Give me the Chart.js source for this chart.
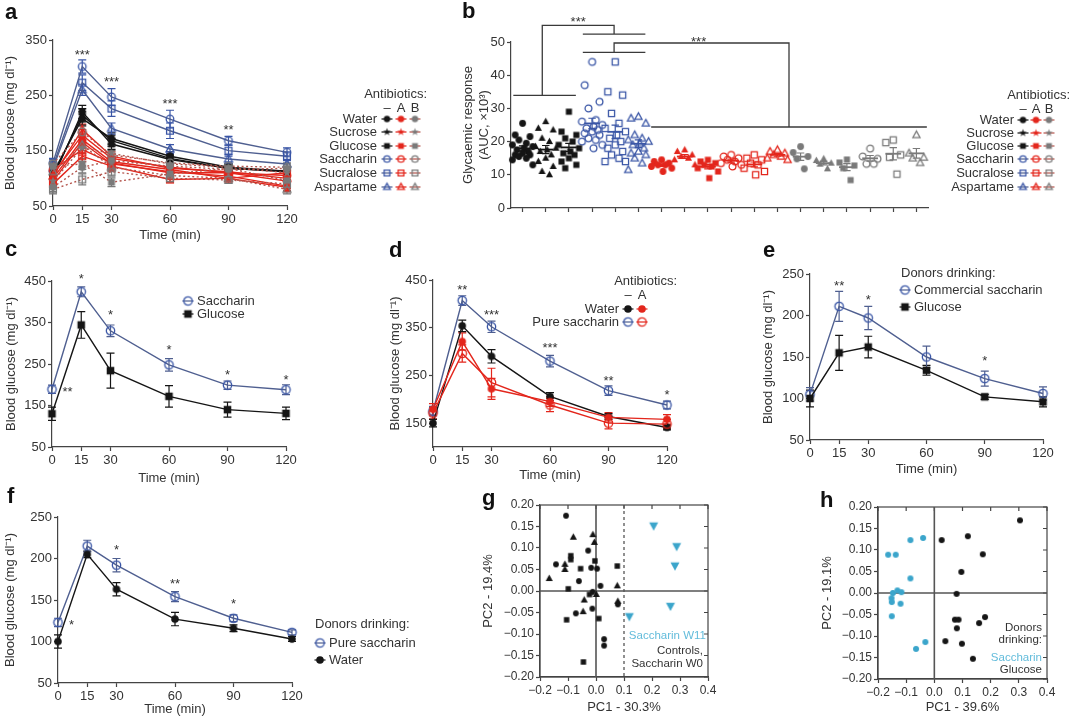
<!DOCTYPE html>
<html>
<head>
<meta charset="utf-8">
<title>Artificial sweeteners and glucose intolerance</title>
<script src="https://cdn.jsdelivr.net/npm/chart.js@4.4.1/dist/chart.umd.min.js"></script>
<style>
  body { margin: 0; background: #fff; }
  #page { position: relative; width: 1080px; height: 719px; overflow: hidden; font-family: "Liberation Sans", Arial, sans-serif; }
  #page canvas { position: absolute; }
  .tag { position: absolute; font-weight: bold; font-size: 22px; line-height: 22px; color: #111; }
</style>
</head>
<body>
<div id="page">
  <canvas id="chartA"></canvas>
  <canvas id="chartB"></canvas>
  <canvas id="chartC"></canvas>
  <canvas id="chartD"></canvas>
  <canvas id="chartE"></canvas>
  <canvas id="chartF"></canvas>
  <canvas id="chartG"></canvas>
  <canvas id="chartH"></canvas>
  <div class="tag" style="left:5px;top:1px">a</div>
  <div class="tag" style="left:462px;top:0px">b</div>
  <div class="tag" style="left:5px;top:238px">c</div>
  <div class="tag" style="left:389px;top:239px">d</div>
  <div class="tag" style="left:763px;top:239px">e</div>
  <div class="tag" style="left:7px;top:485px">f</div>
  <div class="tag" style="left:482px;top:487px">g</div>
  <div class="tag" style="left:820px;top:489px">h</div>
</div>
<script>
// shared labels
const timeTicks = [0, 15, 30, 60, 90, 120];
const sweeteners = ['Water', 'Sucrose', 'Glucose', 'Saccharin', 'Sucralose', 'Aspartame'];
const antibiotics = ['–', 'A', 'B'];

// a: blood glucose curves, mg/dl
const aWaterNone = [110, 208, 172, 140, 120, 113];
const aSucroseNone = [105, 214, 168, 136, 118, 112];
const aGlucoseNone = [100, 220, 162, 134, 118, 113];
const aSaccharinNone = [128, 302, 247, 207, 168, 147];
const aSucraloseNone = [122, 273, 226, 186, 150, 140];
const aAspartameNone = [118, 260, 190, 153, 135, 126];
const aWaterA = [95, 165, 126, 112, 104, 86];
const aSucroseA = [108, 178, 136, 120, 110, 95];
const aGlucoseA = [100, 170, 130, 116, 100, 84];
const aSaccharinA = [115, 152, 128, 110, 110, 105];
const aSucraloseA = [90, 140, 122, 98, 100, 110];
const aAspartameA = [104, 188, 140, 118, 112, 100];
const aWaterB = [84, 120, 132, 122, 116, 118];
const aSucroseB = [95, 155, 145, 126, 120, 110];
const aGlucoseB = [122, 126, 93, 108, 118, 96];
const aSaccharinB = [126, 184, 142, 128, 122, 120];
const aSucraloseB = [80, 98, 112, 100, 97, 90];
const aAspartameB = [112, 160, 120, 105, 100, 80];
const aErrControl = [6, 12, 10, 8, 6, 6];
const aErrSaccharin = [8, 12, 15, 16, 8, 8];
const aErrSucralose = [8, 14, 14, 14, 10, 8];
const aErrAspartame = [8, 10, 10, 8, 8, 8];
const aErrTreated = [8, 10, 8, 6, 6, 8];
const aYTicks = [50, 150, 250, 350];
const aStars = [[15, 329, '***'], [30, 280, '***'], [60, 241, '***'], [90, 193, '**']];

// b: glycaemic response (AUC x10^3), one array per group
const bWaterNone = [25.5, 22, 21.5, 20.5, 19.5, 19, 18.5, 18, 17.5, 17, 16.5, 16, 16, 15.5, 15, 14.5, 13];
const bSucroseNone = [26, 24, 23.5, 21, 20, 18.5, 18, 17.5, 17, 16, 15, 14, 12.5, 11, 10];
const bGlucoseNone = [29, 23, 22, 21, 20, 19, 18, 17, 16.5, 16, 15, 14, 13, 12];
const bSaccharinNone = [44, 37, 32, 30, 26.5, 26, 25, 24.5, 24, 23.5, 23, 22.5, 22, 21, 20.5, 20, 19, 18];
const bSucraloseNone = [44, 35, 34, 28.5, 25.5, 24, 23, 22, 21, 20, 19, 18, 17, 16, 15, 14, 14];
const bAspartameNone = [27.5, 27, 25.5, 22, 21, 20.5, 20, 19.5, 19, 18, 17, 16.5, 16, 15, 13.5, 11.5];
const bWaterA = [14.5, 14, 13.5, 13, 13, 12.5, 12, 11];
const bSucroseA = [17.5, 17, 16, 15.5, 15, 14.5, 13];
const bGlucoseA = [14.5, 14, 13.5, 13, 12.5, 12, 11, 9];
const bSaccharinA = [16, 15.5, 15, 14.5, 14, 13.5, 13, 12.5];
const bSucraloseA = [16, 15, 14.5, 13.5, 13, 12, 11, 10];
const bAspartameA = [17.5, 17, 16.5, 16, 15.5, 15, 14.5];
const bWaterB = [18.5, 16.7, 15.5, 14.8, 11.8];
const bSucroseB = [14.8, 14.3, 13.5, 13.2, 11.8];
const bGlucoseB = [14.6, 13.7, 12.8, 12, 8.4];
const bSaccharinB = [17.9, 15.5, 14.8, 13.3, 13.3];
const bSucraloseB = [20.5, 19.7, 16, 15.3, 10.2];
const bAspartameB = [22, 16.5, 15.2, 15, 13.6];
const bYTicks = [0, 10, 20, 30, 40, 50];
// significance brackets, in (group index, AUC) units
const bBrackets = [
  [[-0.4, 33.9], [2.3, 33.9]],
  [[0.85, 33.9], [0.85, 55], [3.95, 55], [3.95, 52.4]],
  [[2.6, 52.4], [5.3, 52.4]],
  [[2.6, 46.9], [5.3, 46.9]],
  [[3.95, 46.9], [3.95, 49.7], [11.5, 49.7], [11.5, 24.4]],
  [[5.55, 24.4], [17.45, 24.4]]
];
const bStars = [[2.4, 57, '***'], [7.6, 51.2, '***']];

// c
const cSaccharin = [189, 424, 330, 248, 199, 188];
const cSaccharinErr = [10, 12, 14, 15, 10, 12];
const cGlucose = [130, 344, 234, 172, 140, 131];
const cGlucoseErr = [16, 32, 42, 26, 18, 15];
const cYTicks = [50, 150, 250, 350, 450];
const cStars = [[15, 464, '*'], [30, 376, '*'], [60, 292, '*'], [90, 232, '*'], [120, 221, '*'], [8, 190, '**']];

// d
const dWaterNone = [150, 354, 290, 206, 164, 141];
const dWaterNoneErr = [8, 12, 14, 8, 6, 5];
const dWaterA = [179, 321, 222, 195, 162, 158];
const dWaterAErr = [12, 18, 22, 10, 10, 10];
const dSaccharinNone = [175, 407, 352, 280, 218, 188];
const dSaccharinNoneErr = [10, 10, 12, 12, 10, 8];
const dSaccharinA = [171, 296, 235, 188, 150, 148];
const dSaccharinAErr = [12, 18, 30, 14, 12, 10];
const dYTicks = [150, 250, 350, 450];
const dStars = [[15, 436, '**'], [30, 385, '***'], [60, 314, '***'], [90, 245, '**'], [120, 216, '*']];

// e
const eSaccharin = [105, 211, 197, 150, 124, 106];
const eSaccharinErr = [8, 18, 14, 13, 9, 8];
const eGlucose = [100, 155, 162, 134, 102, 96];
const eGlucoseErr = [10, 21, 13, 6, 3, 6];
const eYTicks = [50, 100, 150, 200, 250];
const eStars = [[15, 240, '**'], [30, 223, '*'], [90, 150, '*']];

// f
const fSaccharin = [123, 215, 192, 154, 128, 111];
const fSaccharinErr = [5, 7, 8, 6, 4, 3];
const fWater = [100, 205, 163, 127, 116, 103];
const fWaterErr = [8, 4, 8, 8, 4, 3];
const fYTicks = [50, 100, 150, 200, 250];
const fStars = [[7, 124, '*'], [30, 214, '*'], [60, 173, '**'], [90, 150, '*']];

// g: PCA, [PC1, PC2]
const gCircles = [[-0.107, 0.175], [-0.143, 0.062], [-0.028, 0.094], [-0.017, 0.054], [0.004, 0.052], [-0.061, 0.023],
  [0.016, 0.012], [-0.012, -0.002], [-0.013, -0.041], [-0.072, -0.052], [0.029, -0.112], [0.029, -0.127], [0.078, -0.031]];
const gTriangles = [[-0.081, 0.125], [-0.011, 0.131], [-0.006, 0.113], [-0.111, 0.062], [-0.111, 0.050], [-0.167, 0.029],
  [-0.042, -0.021], [-0.046, -0.048], [0.001, -0.008], [0.076, 0.012], [0.078, -0.024]];
const gSquares = [[-0.090, 0.082], [-0.090, 0.073], [-0.055, 0.052], [-0.004, 0.070], [0.076, 0.058], [-0.099, 0.005],
  [-0.023, -0.008], [-0.105, -0.067], [0.010, -0.064], [-0.045, -0.165]];
const gSaccharinW11 = [[0.206, 0.152], [0.288, 0.104], [0.282, 0.059], [0.266, -0.035], [0.119, -0.059]];

// h: PCA, [PC1, PC2]
const hSaccharin = [[-0.164, 0.089], [-0.137, 0.089], [-0.085, 0.123], [-0.040, 0.128], [-0.085, 0.034], [-0.147, 0.0],
  [-0.131, 0.006], [-0.117, 0.002], [-0.152, -0.012], [-0.151, -0.021], [-0.120, -0.025], [-0.151, -0.054],
  [-0.032, -0.114], [-0.065, -0.130]];
const hGlucose = [[0.304, 0.169], [0.026, 0.123], [0.119, 0.132], [0.172, 0.090], [0.096, 0.049], [0.079, -0.002],
  [0.073, -0.062], [0.086, -0.062], [0.080, -0.082], [0.180, -0.056], [0.159, -0.070], [0.039, -0.112],
  [0.098, -0.118], [0.137, -0.153]];

// ---------------------------------------------------------------
const FONT = '"Liberation Sans", Arial, Helvetica, sans-serif';
const TX = '#333', AX = '#444';
const BLACK = '#151515', BLUE = '#3a56a6', BLUELINE = '#4f5f90', RED = '#e3261c', GRAY = '#7a7a7a',
      BDOT = '#b4544c', CYAN = '#3ba5cb', CYANTXT = '#63bcdb';

Chart.defaults.font.family = FONT;
Chart.defaults.font.size = 13;
Chart.defaults.color = TX;

const shapes = ['circle', 'star', 'square', 'circle', 'square', 'tri'];
const filled = [true, true, true, false, false, false];

const mkCache = {};
function marker(shape, color, full, r) {
  const key = [shape, color, full, r].join('|');
  if (mkCache[key]) return mkCache[key];
  const s = Math.ceil(r * 2.6 + 4);
  const cv = document.createElement('canvas');
  cv.width = s; cv.height = s;
  const g = cv.getContext('2d');
  const c = s / 2;
  g.lineWidth = 1.3; g.strokeStyle = color; g.fillStyle = color;
  g.beginPath();
  if (shape === 'circle') g.arc(c, c, r, 0, Math.PI * 2);
  else if (shape === 'square') g.rect(c - r * 0.9, c - r * 0.9, r * 1.8, r * 1.8);
  else if (shape === 'tri' || shape === 'triDown') {
    const d = shape === 'tri' ? 1 : -1;
    g.moveTo(c, c - d * r * 1.15);
    g.lineTo(c + r * 1.05, c + d * r * 0.75);
    g.lineTo(c - r * 1.05, c + d * r * 0.75);
    g.closePath();
  } else if (shape === 'star') {
    for (let k = 0; k < 10; k++) {
      const rr = k % 2 ? r * 0.5 : r * 1.25;
      const ang = -Math.PI / 2 + k * Math.PI / 5;
      g.lineTo(c + rr * Math.cos(ang), c + rr * Math.sin(ang));
    }
    g.closePath();
  }
  if (full) g.fill(); else g.stroke();
  mkCache[key] = cv;
  return cv;
}

// canvas placement: area = plot rectangle in page px
function frame(id, area, o) {
  const half = o.fs * (o.lh || 1.2) / 2;
  const x = Math.round(o.yTitleX - half);
  const y = o.top;
  const bottom = Math.round(o.xTitleY != null ? o.xTitleY + half : o.bottom);
  const cv = document.getElementById(id);
  cv.width = o.right - x; cv.height = bottom - y;
  cv.style.left = x + 'px'; cv.style.top = y + 'px';
  return { cv, box: { x, y }, yw: area.l - x, xh: bottom - area.b,
           pad: { left: 0, bottom: 0, top: area.t - y, right: o.right - area.r } };
}

function yAxis(f, min, max, ticks, title, extra) {
  return Object.assign({
    type: 'linear', min, max,
    afterBuildTicks: s => { s.ticks = ticks.map(v => ({ value: v })); },
    afterFit: s => { s.width = f.yw; s.paddingTop = 0; s.paddingBottom = 0; },
    grid: { drawOnChartArea: false, tickLength: 4, tickColor: AX, tickWidth: 1.2 },
    border: { color: AX, width: 1.2 },
    ticks: { padding: 2, color: TX, autoSkip: false },
    title: { display: true, text: title, color: TX, padding: 0 }
  }, extra || {});
}

function xAxis(f, min, max, ticks, title, extra) {
  return Object.assign({
    type: 'linear', min, max,
    afterBuildTicks: s => { s.ticks = ticks.map(v => ({ value: v })); },
    afterFit: s => { s.height = f.xh; s.paddingLeft = 0; s.paddingRight = 0; },
    grid: { drawOnChartArea: false, tickLength: 4, tickColor: AX, tickWidth: 1.2 },
    border: { color: AX, width: 1.2 },
    ticks: { padding: 2, color: TX, autoSkip: false, maxRotation: 0 },
    title: { display: !!title, text: title, color: TX, padding: 0 }
  }, extra || {});
}

function curve(vals, err, lineColor, mark, dash, errColor) {
  return {
    data: timeTicks.map((t, i) => ({ x: t, y: vals[i] })),
    err, errColor: errColor || lineColor,
    borderColor: lineColor, borderWidth: 1.4, borderDash: dash || [],
    pointStyle: mark, pointRadius: 4, tension: 0, fill: false, clip: false
  };
}

const errorBars = {
  id: 'errorBars',
  beforeDatasetsDraw(chart) {
    const { ctx, scales: { x, y } } = chart;
    ctx.save();
    ctx.lineWidth = 1.2;
    chart.data.datasets.forEach(ds => {
      if (!ds.err) return;
      ctx.strokeStyle = ds.errColor;
      ctx.beginPath();
      ds.data.forEach((p, i) => {
        const e = ds.err[i];
        const px = x.getPixelForValue(p.x), lo = y.getPixelForValue(p.y - e), hi = y.getPixelForValue(p.y + e);
        ctx.moveTo(px, lo); ctx.lineTo(px, hi);
        ctx.moveTo(px - 4, lo); ctx.lineTo(px + 4, lo);
        ctx.moveTo(px - 4, hi); ctx.lineTo(px + 4, hi);
      });
      ctx.stroke();
    });
    ctx.restore();
  }
};

function label(ctx, s, x, y, align, color, size) {
  ctx.font = (size || 13) + 'px ' + FONT;
  ctx.fillStyle = color || TX; ctx.textAlign = align || 'left'; ctx.textBaseline = 'middle';
  ctx.fillText(s, x, y);
}
function legendMark(ctx, m, lineColor, x, y, dash) {
  ctx.strokeStyle = lineColor; ctx.lineWidth = 1.2; ctx.setLineDash(dash || []);
  ctx.beginPath(); ctx.moveTo(x - 5.5, y); ctx.lineTo(x + 5.5, y); ctx.stroke();
  ctx.setLineDash([]);
  ctx.drawImage(m, x - m.width / 2, y - m.height / 2);
}
function drawStars(chart, list) {
  const { ctx, scales: { x, y } } = chart;
  ctx.save();
  ctx.font = '13px ' + FONT; ctx.fillStyle = TX; ctx.textAlign = 'center'; ctx.textBaseline = 'alphabetic';
  list.forEach(([t, v, s]) => ctx.fillText(s, x.getPixelForValue(t), y.getPixelForValue(v) + 7.5));
  ctx.restore();
}
// notes are written in page coordinates
function notes(f, fn) {
  return { id: 'notes', afterDraw(chart) {
    const ctx = chart.ctx;
    ctx.save(); ctx.translate(-f.box.x, -f.box.y);
    fn(ctx, chart);
    ctx.restore();
  } };
}
function baseOptions(f) {
  return {
    responsive: false, animation: false, devicePixelRatio: 1,
    layout: { padding: f.pad },
    plugins: { legend: { display: false }, tooltip: { enabled: false } }
  };
}

// group colours for a and b
function markColor(g, k) { return g === 0 ? (k < 3 ? BLACK : BLUE) : g === 1 ? RED : GRAY; }
function lineColor(g, k) { return g === 0 ? (k < 3 ? BLACK : BLUELINE) : g === 1 ? RED : BDOT; }

function sweetenerLegend(ctx, textRight, cols, headRight, rowsY) {
  label(ctx, 'Antibiotics:', headRight, rowsY[0] - 25, 'right');
  antibiotics.forEach((a, g) => label(ctx, a, cols[g], rowsY[0] - 11, 'center'));
  sweeteners.forEach((s, k) => {
    label(ctx, s, textRight, rowsY[k], 'right');
    antibiotics.forEach((a, g) => legendMark(ctx, marker(shapes[k], markColor(g, k), filled[k], 3.2), lineColor(g, k), cols[g], rowsY[k]));
  });
}

// ---------- a ----------
(function () {
  const area = { l: 53, r: 287, t: 40, b: 206 };
  const f = frame('chartA', area, { fs: 13, yTitleX: 11, xTitleY: 235, top: 20, right: 440 });
  const groups = [
    [aWaterNone, aSucroseNone, aGlucoseNone, aSaccharinNone, aSucraloseNone, aAspartameNone],
    [aWaterA, aSucroseA, aGlucoseA, aSaccharinA, aSucraloseA, aAspartameA],
    [aWaterB, aSucroseB, aGlucoseB, aSaccharinB, aSucraloseB, aAspartameB]
  ];
  const errNone = [aErrControl, aErrControl, aErrControl, aErrSaccharin, aErrSucralose, aErrAspartame];
  const datasets = [];
  [2, 1, 0].forEach(g => groups[g].forEach((vals, k) => {
    const ds = curve(vals, g === 0 ? errNone[k] : aErrTreated, lineColor(g, k),
      marker(shapes[k], markColor(g, k), filled[k], 3.8), g === 2 ? [2, 2.5] : [], markColor(g, k));
    datasets.push(ds);
  }));
  const opt = baseOptions(f);
  opt.scales = {
    x: xAxis(f, 0, 120, timeTicks, 'Time (min)'),
    y: yAxis(f, 50, 350, aYTicks, 'Blood glucose (mg dl⁻¹)')
  };
  new Chart(f.cv, { type: 'line', data: { datasets }, options: opt, plugins: [errorBars, notes(f, (ctx, chart) => {
    ctx.translate(f.box.x, f.box.y); drawStars(chart, aStars); ctx.translate(-f.box.x, -f.box.y);
    sweetenerLegend(ctx, 377, [387, 401, 415], 427, [119, 132, 146, 159, 173, 187]);
  })] });
})();

// ---------- b ----------
(function () {
  const area = { l: 511, r: 928, t: 42, b: 208 };
  const f = frame('chartB', area, { fs: 13, lh: 1.25, yTitleX: 468, bottom: 222, top: 0, right: 1080 });
  const groups = [
    [bWaterNone, bSucroseNone, bGlucoseNone, bSaccharinNone, bSucraloseNone, bAspartameNone],
    [bWaterA, bSucroseA, bGlucoseA, bSaccharinA, bSucraloseA, bAspartameA],
    [bWaterB, bSucroseB, bGlucoseB, bSaccharinB, bSucraloseB, bAspartameB]
  ];
  // at this size the sucrose stars read as triangles in the scatter
  const dotShapes = ['circle', 'tri', 'square', 'circle', 'square', 'tri'];
  const spread = [0, -0.32, 0.32, -0.16, 0.16, -0.44, 0.44, 0.06, -0.24, 0.24];
  const cats = [];
  const datasets = [];
  groups.forEach((grp, g) => grp.forEach((vals, k) => {
    const cat = g * 6 + k;
    cats.push(cat);
    datasets.push({
      data: vals.map((v, i) => ({ x: cat + spread[i % spread.length], y: v })),
      vals, cat, meanColor: markColor(g, k),
      pointStyle: marker(dotShapes[k], markColor(g, k), filled[k], 3.4), pointRadius: 3, showLine: false, clip: false
    });
  }));
  const meanSem = {
    id: 'meanSem',
    afterDatasetsDraw(chart) {
      const { ctx, scales: { x, y } } = chart;
      ctx.save();
      chart.data.datasets.forEach(ds => {
        const n = ds.vals.length;
        const mean = ds.vals.reduce((s, v) => s + v, 0) / n;
        const sd = Math.sqrt(ds.vals.reduce((s, v) => s + (v - mean) * (v - mean), 0) / (n - 1));
        const sem = sd / Math.sqrt(n);
        const cx = x.getPixelForValue(ds.cat), my = y.getPixelForValue(mean);
        const lo = y.getPixelForValue(mean - sem), hi = y.getPixelForValue(mean + sem);
        const w = x.getPixelForValue(ds.cat + 0.34) - cx, c = x.getPixelForValue(ds.cat + 0.16) - cx;
        ctx.strokeStyle = ds.meanColor;
        ctx.lineWidth = 1.8;
        ctx.beginPath(); ctx.moveTo(cx - w, my); ctx.lineTo(cx + w, my); ctx.stroke();
        ctx.lineWidth = 1.2;
        ctx.beginPath();
        ctx.moveTo(cx, lo); ctx.lineTo(cx, hi);
        ctx.moveTo(cx - c, lo); ctx.lineTo(cx + c, lo);
        ctx.moveTo(cx - c, hi); ctx.lineTo(cx + c, hi);
        ctx.stroke();
      });
      // brackets
      ctx.strokeStyle = '#3a3a3a'; ctx.lineWidth = 1.3;
      bBrackets.forEach(pl => {
        ctx.beginPath();
        pl.forEach(([cx, v], i) => {
          const px = x.getPixelForValue(cx), py = y.getPixelForValue(v);
          i ? ctx.lineTo(px, py) : ctx.moveTo(px, py);
        });
        ctx.stroke();
      });
      ctx.font = '13px ' + FONT; ctx.fillStyle = TX; ctx.textAlign = 'center'; ctx.textBaseline = 'alphabetic';
      bStars.forEach(([cx, v, s]) => ctx.fillText(s, x.getPixelForValue(cx), y.getPixelForValue(v) + 7.5));
      ctx.restore();
    }
  };
  const opt = baseOptions(f);
  opt.scales = {
    x: xAxis(f, -0.5, 17.5, cats, '', { ticks: { display: false } }),
    y: yAxis(f, 0, 50, bYTicks, ['Glycaemic response', '(AUC, ×10³)'])
  };
  opt.scales.y.title.font = { size: 13, lineHeight: 1.25 };
  new Chart(f.cv, { type: 'scatter', data: { datasets }, options: opt, plugins: [meanSem, notes(f, ctx => {
    sweetenerLegend(ctx, 1014, [1023, 1036, 1049], 1070, [120, 133, 146, 159, 173, 187]);
  })] });
})();

// ---------- c ----------
(function () {
  const area = { l: 52, r: 286, t: 281, b: 447 };
  const f = frame('chartC', area, { fs: 13, yTitleX: 12, xTitleY: 478, top: 262, right: 366 });
  const mS = marker('circle', BLUE, false, 4.2), mG = marker('square', BLACK, true, 4.2);
  const datasets = [
    curve(cGlucose, cGlucoseErr, BLACK, mG),
    curve(cSaccharin, cSaccharinErr, BLUELINE, mS, [], BLUELINE)
  ];
  const opt = baseOptions(f);
  opt.scales = {
    x: xAxis(f, 0, 120, timeTicks, 'Time (min)'),
    y: yAxis(f, 50, 450, cYTicks, 'Blood glucose (mg dl⁻¹)')
  };
  new Chart(f.cv, { type: 'line', data: { datasets }, options: opt, plugins: [errorBars, notes(f, (ctx, chart) => {
    legendMark(ctx, mS, BLUELINE, 188, 301); label(ctx, 'Saccharin', 197, 301);
    legendMark(ctx, mG, BLACK, 188, 314); label(ctx, 'Glucose', 197, 314);
    ctx.translate(f.box.x, f.box.y); drawStars(chart, cStars);
  })] });
})();

// ---------- d ----------
(function () {
  const area = { l: 433, r: 667, t: 280, b: 447 };
  const f = frame('chartD', area, { fs: 13, yTitleX: 396, xTitleY: 475, top: 262, right: 712 });
  const mW = marker('circle', BLACK, true, 3.8), mWA = marker('circle', RED, true, 3.8);
  const mS = marker('circle', BLUE, false, 4.2), mSA = marker('circle', RED, false, 4.2);
  const datasets = [
    curve(dSaccharinA, dSaccharinAErr, RED, mSA),
    curve(dWaterA, dWaterAErr, RED, mWA),
    curve(dWaterNone, dWaterNoneErr, BLACK, mW),
    curve(dSaccharinNone, dSaccharinNoneErr, BLUELINE, mS)
  ];
  const opt = baseOptions(f);
  opt.scales = {
    x: xAxis(f, 0, 120, timeTicks, 'Time (min)'),
    y: yAxis(f, 100, 450, dYTicks, 'Blood glucose (mg dl⁻¹)')
  };
  new Chart(f.cv, { type: 'line', data: { datasets }, options: opt, plugins: [errorBars, notes(f, (ctx, chart) => {
    label(ctx, 'Antibiotics:', 677, 281, 'right');
    label(ctx, antibiotics[0], 628, 295, 'center'); label(ctx, antibiotics[1], 642, 295, 'center');
    label(ctx, 'Water', 619, 309, 'right');
    legendMark(ctx, mW, BLACK, 628, 309); legendMark(ctx, mWA, RED, 642, 309);
    label(ctx, 'Pure saccharin', 619, 322, 'right');
    legendMark(ctx, mS, BLUELINE, 628, 322); legendMark(ctx, mSA, RED, 642, 322);
    ctx.translate(f.box.x, f.box.y); drawStars(chart, dStars);
  })] });
})();

// ---------- e ----------
(function () {
  const area = { l: 810, r: 1043, t: 274, b: 440 };
  const f = frame('chartE', area, { fs: 13, yTitleX: 769, xTitleY: 469, top: 258, right: 1080 });
  const mS = marker('circle', BLUE, false, 4.2), mG = marker('square', BLACK, true, 4.2);
  const datasets = [
    curve(eGlucose, eGlucoseErr, BLACK, mG),
    curve(eSaccharin, eSaccharinErr, BLUELINE, mS)
  ];
  const opt = baseOptions(f);
  opt.scales = {
    x: xAxis(f, 0, 120, timeTicks, 'Time (min)'),
    y: yAxis(f, 50, 250, eYTicks, 'Blood glucose (mg dl⁻¹)')
  };
  new Chart(f.cv, { type: 'line', data: { datasets }, options: opt, plugins: [errorBars, notes(f, (ctx, chart) => {
    label(ctx, 'Donors drinking:', 901, 273);
    legendMark(ctx, mS, BLUELINE, 905, 290); label(ctx, 'Commercial saccharin', 914, 290);
    legendMark(ctx, mG, BLACK, 905, 307); label(ctx, 'Glucose', 914, 307);
    ctx.translate(f.box.x, f.box.y); drawStars(chart, eStars);
  })] });
})();

// ---------- f ----------
(function () {
  const area = { l: 58, r: 292, t: 517, b: 683 };
  const f = frame('chartF', area, { fs: 13, yTitleX: 11, xTitleY: 709, top: 505, right: 432 });
  const mS = marker('circle', BLUE, false, 4.2), mW = marker('circle', BLACK, true, 3.8);
  const datasets = [
    curve(fWater, fWaterErr, BLACK, mW),
    curve(fSaccharin, fSaccharinErr, BLUELINE, mS)
  ];
  const opt = baseOptions(f);
  opt.scales = {
    x: xAxis(f, 0, 120, timeTicks, 'Time (min)'),
    y: yAxis(f, 50, 250, fYTicks, 'Blood glucose (mg dl⁻¹)')
  };
  new Chart(f.cv, { type: 'line', data: { datasets }, options: opt, plugins: [errorBars, notes(f, (ctx, chart) => {
    label(ctx, 'Donors drinking:', 315, 624);
    legendMark(ctx, mS, BLUELINE, 320, 643); label(ctx, 'Pure saccharin', 329, 643);
    legendMark(ctx, mW, BLACK, 320, 660); label(ctx, 'Water', 329, 660);
    ctx.translate(f.box.x, f.box.y); drawStars(chart, fStars);
  })] });
})();

// ---------- g, h (PCA) ----------
const pcTicksX = [-0.2, -0.1, 0, 0.1, 0.2, 0.3, 0.4];
const pcTicksY = [-0.2, -0.15, -0.1, -0.05, 0, 0.05, 0.1, 0.15, 0.2];
const fmt = d => v => (Math.abs(v) < 1e-9 ? 0 : v).toFixed(d).replace('-', '−');

function pcaFrame(cut) {
  return {
    id: 'pcaFrame',
    beforeDatasetsDraw(chart) {
      const { ctx, chartArea: a, scales: { x, y } } = chart;
      ctx.save();
      ctx.strokeStyle = AX; ctx.lineWidth = 1.2;
      ctx.strokeRect(a.left, a.top, a.right - a.left, a.bottom - a.top);
      ctx.beginPath();
      y.ticks.forEach(t => { const p = y.getPixelForValue(t.value); ctx.moveTo(a.right, p); ctx.lineTo(a.right - 4, p); });
      x.ticks.forEach(t => { const p = x.getPixelForValue(t.value); ctx.moveTo(p, a.top); ctx.lineTo(p, a.top + 4); });
      ctx.stroke();
      const x0 = x.getPixelForValue(0), y0 = y.getPixelForValue(0);
      ctx.strokeStyle = '#555'; ctx.lineWidth = 1.6;
      ctx.beginPath(); ctx.moveTo(x0, a.top); ctx.lineTo(x0, a.bottom); ctx.moveTo(a.left, y0); ctx.lineTo(a.right, y0); ctx.stroke();
      if (cut != null) {
        const xc = x.getPixelForValue(cut);
        ctx.lineWidth = 1.3; ctx.setLineDash([3, 3]);
        ctx.beginPath(); ctx.moveTo(xc, a.top); ctx.lineTo(xc, a.bottom); ctx.stroke();
      }
      ctx.restore();
    }
  };
}
function pcaOptions(f, xt, yt) {
  const opt = baseOptions(f);
  opt.scales = {
    x: xAxis(f, -0.2, 0.4, pcTicksX, xt),
    y: yAxis(f, -0.2, 0.2, pcTicksY, yt)
  };
  opt.scales.x.ticks.callback = fmt(1);
  opt.scales.y.ticks.callback = fmt(2);
  opt.scales.x.ticks.font = { size: 12 };
  opt.scales.y.ticks.font = { size: 12 };
  return opt;
}
const pts = list => list.map(([x, y]) => ({ x, y }));

(function () {
  const area = { l: 540, r: 708, t: 505, b: 677 };
  const f = frame('chartG', area, { fs: 13, yTitleX: 489, xTitleY: 707, top: 495, right: 722 });
  const datasets = [
    { data: pts(gCircles), pointStyle: marker('circle', BLACK, true, 2.9), pointRadius: 3, clip: false },
    { data: pts(gTriangles), pointStyle: marker('tri', BLACK, true, 3.4), pointRadius: 3, clip: false },
    { data: pts(gSquares), pointStyle: marker('square', BLACK, true, 3), pointRadius: 3, clip: false },
    { data: pts(gSaccharinW11), pointStyle: marker('triDown', CYAN, true, 4.3), pointRadius: 4, clip: false }
  ];
  new Chart(f.cv, { type: 'scatter', data: { datasets }, options: pcaOptions(f, 'PC1 - 30.3%', 'PC2 - 19.4%'),
    plugins: [pcaFrame(0.1), notes(f, ctx => {
      label(ctx, 'Saccharin W11', 706, 636, 'right', CYANTXT, 11.5);
      label(ctx, 'Controls,', 703, 651, 'right', TX, 11.5);
      label(ctx, 'Saccharin W0', 703, 664, 'right', TX, 11.5);
    })] });
})();

(function () {
  const area = { l: 878, r: 1047, t: 507, b: 679 };
  const f = frame('chartH', area, { fs: 13, yTitleX: 828, xTitleY: 707, top: 497, right: 1078 });
  const datasets = [
    { data: pts(hSaccharin), pointStyle: marker('circle', CYAN, true, 3), pointRadius: 3, clip: false },
    { data: pts(hGlucose), pointStyle: marker('circle', BLACK, true, 3), pointRadius: 3, clip: false }
  ];
  new Chart(f.cv, { type: 'scatter', data: { datasets }, options: pcaOptions(f, 'PC1 - 39.6%', 'PC2 - 19.1%'),
    plugins: [pcaFrame(null), notes(f, ctx => {
      label(ctx, 'Donors', 1042, 628, 'right', TX, 11.5);
      label(ctx, 'drinking:', 1042, 640, 'right', TX, 11.5);
      label(ctx, 'Saccharin', 1042, 658, 'right', CYANTXT, 11.5);
      label(ctx, 'Glucose', 1042, 670, 'right', TX, 11.5);
    })] });
})();
</script>
</body>
</html>
